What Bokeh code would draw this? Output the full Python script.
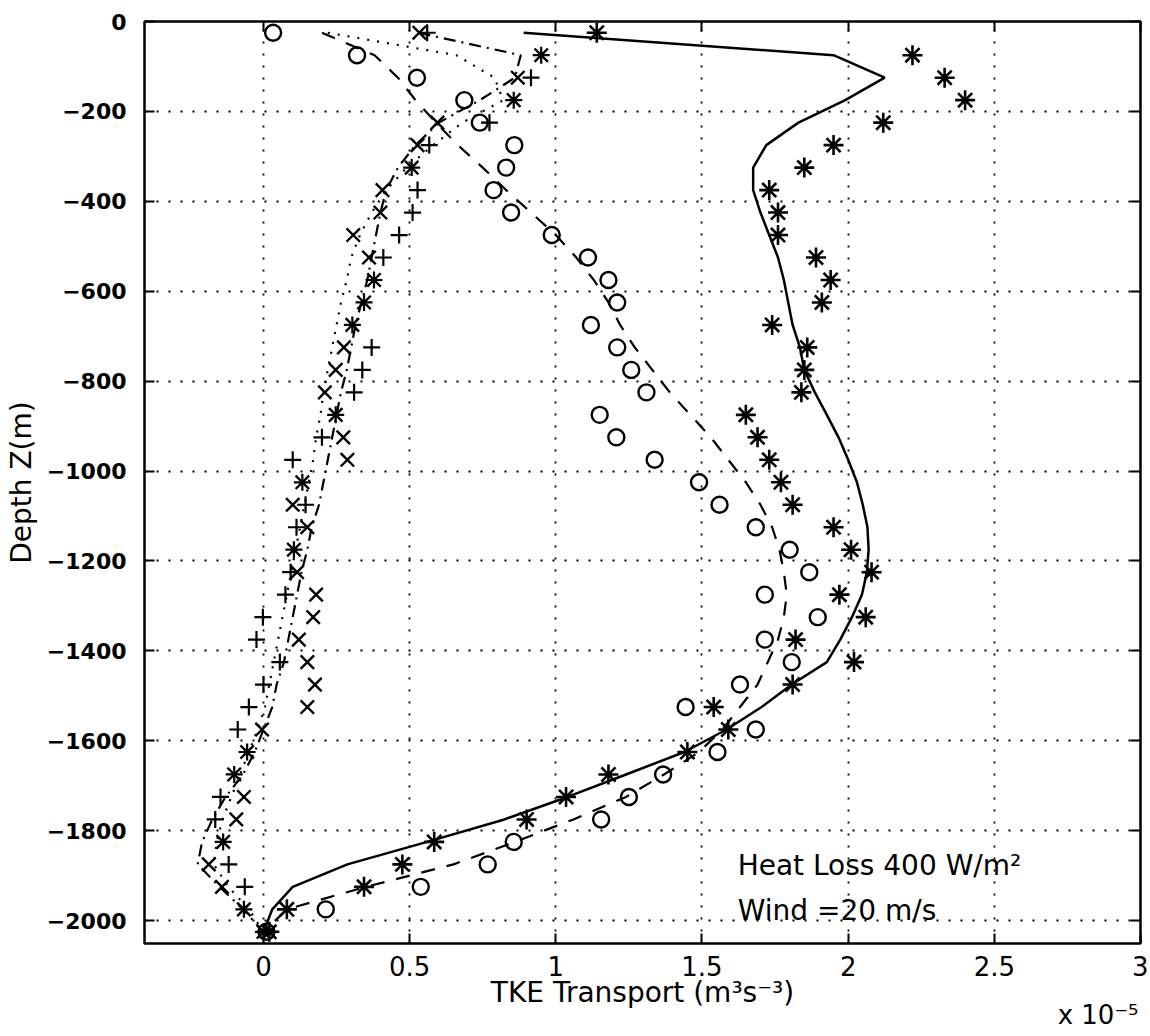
import math
from bokeh.plotting import figure
from bokeh.models import Range1d, Label, LinearAxis, FixedTicker
from bokeh.embed import file_html
from bokeh.resources import INLINE

# depth levels (m)
depth = [-25, -75, -125, -175, -225, -275, -325, -375, -425, -475,
         -525, -575, -625, -675, -725, -775, -825, -875, -925, -975,
         -1025, -1075, -1125, -1175, -1225, -1275, -1325, -1375, -1425, -1475,
         -1525, -1575, -1625, -1675, -1725, -1775, -1825, -1875, -1925, -1975,
         -2025]

# LES markers (x 1e-5 m^3 s^-3)
les_star = [1.14, 2.22, 2.33, 2.40, 2.12, 1.95, 1.85, 1.73, 1.76, 1.76,
            1.89, 1.94, 1.91, 1.74, 1.86, 1.85, 1.84, 1.65, 1.69, 1.73,
            1.77, 1.81, 1.95, 2.01, 2.08, 1.97, 2.06, 1.82, 2.02, 1.81,
            1.54, 1.59, 1.45, 1.18, 1.035, 0.90, 0.584, 0.475, 0.344, 0.08,
            0.02]
les_circle = [0.033, 0.32, 0.525, 0.687, 0.74, 0.858, 0.83, 0.787, 0.847, 0.986,
              1.11, 1.18, 1.21, 1.12, 1.21, 1.258, 1.31, 1.15, 1.207, 1.338,
              1.49, 1.56, 1.684, 1.80, 1.867, 1.715, 1.896, 1.715, 1.807, 1.63,
              1.444, 1.684, 1.553, 1.367, 1.25, 1.155, 0.856, 0.767, 0.538, 0.213,
              0.01]
les_x = [0.533, 0.95, 0.87, 0.856, 0.595, 0.527, 0.507, 0.407, 0.40, 0.307,
         0.361, 0.378, 0.344, 0.304, 0.275, 0.247, 0.21, 0.247, 0.273, 0.287,
         0.133, 0.10, 0.15, 0.104, 0.115, 0.18, 0.17, 0.121, 0.15, 0.176,
         0.15, -0.005, -0.056, -0.10, -0.067, -0.093, -0.138, -0.187, -0.142, -0.067,
         0.0]
les_plus = [0.56, 0.95, 0.915, 0.856, 0.773, 0.567, 0.507, 0.527, 0.51, 0.464,
            0.41, 0.378, 0.344, 0.304, 0.37, 0.338, 0.31, 0.247, 0.20, 0.10,
            0.133, 0.144, 0.113, 0.104, 0.093, 0.075, -0.002, -0.024, 0.056, 0.0,
            -0.05, -0.088, -0.056, -0.10, -0.147, -0.165, -0.138, -0.119, -0.064, -0.067,
            0.0]

# model curves
model_solid = [0.89, 1.95, 2.125, 1.99, 1.83, 1.72, 1.675, 1.675, 1.70, 1.73,
               1.76, 1.78, 1.795, 1.81, 1.835, 1.85, 1.886, 1.927, 1.967, 2.0,
               2.03, 2.05, 2.066, 2.07, 2.064, 2.047, 2.013, 1.973, 1.927, 1.807,
               1.704, 1.584, 1.44, 1.24, 1.04, 0.824, 0.56, 0.287, 0.10, 0.03,
               0.0]
model_dashed = [0.20, 0.38, 0.46, 0.52, 0.59, 0.665, 0.75, 0.83, 0.915, 1.0,
                1.07, 1.13, 1.18, 1.22, 1.27, 1.33, 1.39, 1.46, 1.53, 1.59,
                1.65, 1.70, 1.74, 1.765, 1.78, 1.79, 1.78, 1.76, 1.725, 1.69,
                1.63, 1.57, 1.49, 1.37, 1.24, 1.06, 0.86, 0.65, 0.35, 0.08,
                0.0]
model_dashdot = [0.53, 0.88, 0.86, 0.74, 0.60, 0.52, 0.46, 0.42, 0.40, 0.385,
                 0.37, 0.355, 0.335, 0.315, 0.30, 0.285, 0.265, 0.25, 0.235, 0.22,
                 0.205, 0.19, 0.165, 0.15, 0.13, 0.115, 0.10, 0.085, 0.07, 0.045,
                 0.03, 0.0, -0.03, -0.07, -0.13, -0.175, -0.21, -0.225, -0.15, -0.07,
                 0.0]
model_dotted = [0.22, 0.66, 0.79, 0.82, 0.68, 0.58, 0.49, 0.42, 0.37, 0.33,
                0.30, 0.285, 0.265, 0.25, 0.235, 0.22, 0.205, 0.195, 0.18, 0.17,
                0.155, 0.14, 0.125, 0.11, 0.095, 0.08, 0.065, 0.05, 0.035, 0.02,
                0.005, -0.02, -0.05, -0.08, -0.11, -0.14, -0.16, -0.17, -0.12, -0.05,
                0.0]

x_ticks = [0, 0.5, 1, 1.5, 2, 2.5, 3]
x_tick_labels = ["0", "0.5", "1", "1.5", "2", "2.5", "3"]
y_ticks = [0, -200, -400, -600, -800, -1000, -1200, -1400, -1600, -1800, -2000]
y_tick_labels = ["0", "\u2212200", "\u2212400", "\u2212600", "\u2212800", "\u22121000",
                 "\u22121200", "\u22121400", "\u22121600", "\u22121800", "\u22122000"]
scale_text = "x 10\u207b\u2075"
scale_text_pos = 2.855

x_lo, x_hi = -0.407, 3.0
y_lo, y_hi = -2051, 0

FONT = "DejaVu Sans"

p = figure(width=1148, height=1034,
           x_range=Range1d(x_lo, x_hi), y_range=Range1d(y_lo, y_hi),
           output_backend="svg", toolbar_location=None,
           min_border_left=144, min_border_right=8, min_border_top=21, min_border_bottom=91)
p.background_fill_color = "white"
p.border_fill_color = "white"
p.outline_line_color = "black"
p.outline_line_width = 2.5

# main axes
xax = p.xaxis[0]
yax = p.yaxis[0]
xax.ticker = FixedTicker(ticks=x_ticks)
xax.major_label_overrides = {t: l for t, l in zip(x_ticks, x_tick_labels)}
yax.ticker = FixedTicker(ticks=y_ticks)
yax.major_label_overrides = {t: l for t, l in zip(y_ticks, y_tick_labels)}
for ax in (xax, yax):
    ax.axis_line_color = None
    ax.major_tick_in = 10
    ax.major_tick_out = 0
    ax.major_tick_line_width = 2
    ax.major_tick_line_color = "black"
    ax.minor_tick_line_color = None
    ax.major_label_text_color = "black"
    ax.axis_label_text_color = "black"
    ax.axis_label_text_font = FONT
    ax.axis_label_text_font_style = "normal"
    ax.axis_label_text_font_size = "28px"
xax.major_label_text_font = FONT
xax.major_label_text_font_size = "26px"
xax.major_label_standoff = 12
xax.axis_label = "TKE Transport (m\u00b3s\u207b\u00b3)"
xax.axis_label_standoff = -3
yax.major_label_text_font = FONT
yax.major_label_text_font_style = "bold"
yax.major_label_text_font_size = "22px"
yax.major_label_standoff = 18
yax.axis_label = "Depth Z(m)"
yax.axis_label_standoff = 6

# mirrored inward ticks on top and right (no labels)
top_ax = LinearAxis(ticker=FixedTicker(ticks=x_ticks), major_label_text_font_size="1px",
                    major_label_text_color=None,
                    major_tick_in=10, major_tick_out=0, major_tick_line_width=2,
                    axis_line_color=None, minor_tick_line_color=None, major_label_standoff=0)
right_ax = LinearAxis(ticker=FixedTicker(ticks=y_ticks), major_label_text_font_size="1px",
                      major_label_text_color=None,
                      major_tick_in=10, major_tick_out=0, major_tick_line_width=2,
                      axis_line_color=None, minor_tick_line_color=None, major_label_standoff=0)
p.add_layout(top_ax, "above")
p.add_layout(right_ax, "right")

# scale factor "x 10^-5" drawn as a label-only axis below the x axis
scale_ax = LinearAxis(ticker=FixedTicker(ticks=[scale_text_pos]),
                      major_label_overrides={scale_text_pos: scale_text},
                      major_label_text_font=FONT, major_label_text_font_size="26px",
                      major_label_text_color="black",
                      major_tick_line_color=None, minor_tick_line_color=None,
                      axis_line_color=None, major_label_standoff=-18)
p.add_layout(scale_ax, "below")

# grid
for g in (p.xgrid[0], p.ygrid[0]):
    g.grid_line_color = "black"
    g.grid_line_dash = "2 10"
    g.grid_line_width = 1.8
    g.grid_line_alpha = 1.0
p.xgrid[0].ticker = FixedTicker(ticks=x_ticks)
p.ygrid[0].ticker = FixedTicker(ticks=y_ticks)

# model curves
p.line(model_solid, depth, line_color="black", line_width=2.5)
p.line(model_dashed, depth, line_color="black", line_width=2.2, line_dash="14 12")
p.line(model_dashdot, depth, line_color="black", line_width=2.2, line_dash="12 6 2 6")
p.line(model_dotted, depth, line_color="black", line_width=2.2, line_dash="2 8")

# LES markers
p.scatter(les_star, depth, marker="asterisk", size=20, line_color="black", line_width=2.6)
p.scatter(les_circle, depth, marker="circle", size=16, line_color="black", line_width=2.4,
          fill_color=None)
p.scatter(les_x, depth, marker="x", size=19, line_color="black", line_width=2.4)
p.scatter(les_plus, depth, marker="cross", size=17, line_color="black", line_width=2.2)

# in-plot annotation
p.add_layout(Label(x=1.622, y=-1877, text="Heat Loss 400 W/m\u00b2", text_font=FONT,
                   text_font_size="28px", text_color="black", text_baseline="alphabetic"))
p.add_layout(Label(x=1.622, y=-1977, text="Wind =20 m/s", text_font=FONT,
                   text_font_size="28px", text_color="black", text_baseline="alphabetic"))

open("out.html", "w").write(file_html(p, INLINE))
